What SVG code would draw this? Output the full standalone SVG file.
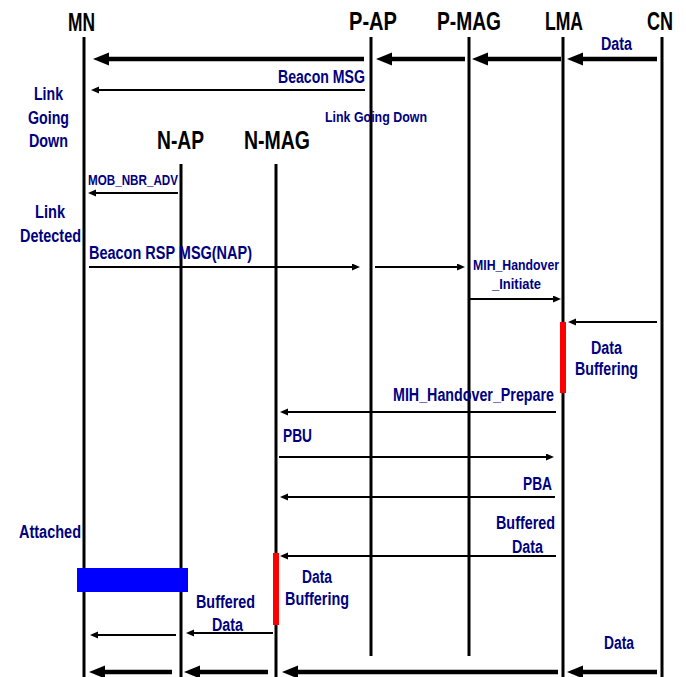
<svg xmlns="http://www.w3.org/2000/svg" width="686" height="677" viewBox="0 0 686 677">
<style>
.hd{font-family:"Liberation Sans",Arial,sans-serif;font-weight:bold;font-size:26px;fill:#000}
.lb{font-family:"Liberation Sans",Arial,sans-serif;font-weight:bold;font-size:18px;fill:#000080}
.sm{font-family:"Liberation Sans",Arial,sans-serif;font-weight:bold;font-size:15px;fill:#000080}
.life{stroke:#000;stroke-width:3;fill:none}
.thick{stroke:#000;stroke-width:4.5;fill:none;marker-end:url(#hb)}
.thin{stroke:#000;stroke-width:2;fill:none;marker-end:url(#hs)}
</style>
<defs>
<marker id="hb" markerUnits="userSpaceOnUse" markerWidth="18" markerHeight="14" refX="2" refY="6.5" orient="auto"><path d="M0,0 L16,6.5 L0,13 z" fill="#000"/></marker>
<marker id="hs" markerUnits="userSpaceOnUse" markerWidth="9" markerHeight="8" refX="1" refY="3.5" orient="auto"><path d="M0,0 L8,3.5 L0,7 z" fill="#000"/></marker>
</defs>
<rect width="686" height="677" fill="#fff"/>
<g id="MN"><text class="hd" x="68" y="31" textLength="27" lengthAdjust="spacingAndGlyphs">MN</text><line class="life" x1="84" y1="37" x2="84" y2="677"/></g>
<g id="P-AP"><text class="hd" x="349" y="30" textLength="48" lengthAdjust="spacingAndGlyphs">P-AP</text><line class="life" x1="371" y1="37" x2="371" y2="656"/></g>
<g id="P-MAG"><text class="hd" x="437" y="30" textLength="64" lengthAdjust="spacingAndGlyphs">P-MAG</text><line class="life" x1="469" y1="37" x2="469" y2="656"/></g>
<g id="LMA"><text class="hd" x="545" y="30" textLength="38" lengthAdjust="spacingAndGlyphs">LMA</text><line class="life" x1="563" y1="37" x2="563" y2="677"/></g>
<g id="CN"><text class="hd" x="647" y="30" textLength="26" lengthAdjust="spacingAndGlyphs">CN</text><line class="life" x1="662" y1="37" x2="662" y2="677"/></g>
<g id="N-AP"><text class="hd" x="157" y="149" textLength="47" lengthAdjust="spacingAndGlyphs">N-AP</text><line class="life" x1="181" y1="164" x2="181" y2="677"/></g>
<g id="N-MAG"><text class="hd" x="244" y="149" textLength="66" lengthAdjust="spacingAndGlyphs">N-MAG</text><line class="life" x1="276" y1="164" x2="276" y2="677"/></g>
<g id="activations">
<rect x="560" y="322" width="6" height="71" fill="#ff0000"/>
<rect x="273" y="553" width="6" height="72" fill="#ff0000"/>
<rect x="77" y="568" width="111" height="24" fill="#0000ff"/>
</g>
<g id="connectors">
<line class="thick" x1="657" y1="59" x2="581" y2="59"/>
<line class="thick" x1="561" y1="59" x2="486" y2="59"/>
<line class="thick" x1="465" y1="59" x2="390" y2="59"/>
<line class="thick" x1="364" y1="59" x2="107" y2="59"/>
<line class="thin" x1="365" y1="90" x2="98" y2="90"/>
<line class="thin" x1="178" y1="193" x2="95" y2="193"/>
<line class="thin" x1="89" y1="267" x2="353" y2="267"/>
<line class="thin" x1="375" y1="267" x2="458" y2="267"/>
<line class="thin" x1="469" y1="299" x2="554" y2="299"/>
<line class="thin" x1="657" y1="322" x2="575" y2="322"/>
<line class="thin" x1="556" y1="412" x2="287" y2="412"/>
<line class="thin" x1="279" y1="457" x2="547" y2="457"/>
<line class="thin" x1="555" y1="497" x2="287" y2="497"/>
<line class="thin" x1="556" y1="556" x2="287" y2="556"/>
<line class="thin" x1="273" y1="633" x2="193" y2="633"/>
<line class="thin" x1="176" y1="635" x2="97" y2="635"/>
<line class="thick" x1="172" y1="672" x2="103" y2="672"/>
<line class="thick" x1="268" y1="672" x2="198" y2="672"/>
<line class="thick" x1="558" y1="672" x2="296" y2="672"/>
<line class="thick" x1="657" y1="672" x2="581" y2="672"/>
</g>
<g id="labels">
<text class="lb" x="601" y="50" textLength="31" lengthAdjust="spacingAndGlyphs">Data</text>
<text class="lb" x="278" y="83" textLength="87" lengthAdjust="spacingAndGlyphs">Beacon MSG</text>
<text class="lb" x="34" y="100" textLength="29" lengthAdjust="spacingAndGlyphs">Link</text>
<text class="lb" x="28" y="124" textLength="41" lengthAdjust="spacingAndGlyphs">Going</text>
<text class="lb" x="29" y="147" textLength="39" lengthAdjust="spacingAndGlyphs">Down</text>
<text class="sm" x="325" y="122" textLength="102" lengthAdjust="spacingAndGlyphs">Link Going Down</text>
<text class="sm" x="88" y="185" textLength="90" lengthAdjust="spacingAndGlyphs">MOB_NBR_ADV</text>
<text class="lb" x="35" y="218" textLength="30" lengthAdjust="spacingAndGlyphs">Link</text>
<text class="lb" x="20" y="242" textLength="61" lengthAdjust="spacingAndGlyphs">Detected</text>
<text class="lb" x="89" y="259" textLength="163" lengthAdjust="spacingAndGlyphs">Beacon RSP MSG(NAP)</text>
<text class="sm" x="473" y="270" textLength="86" lengthAdjust="spacingAndGlyphs">MIH_Handover</text>
<text class="sm" x="492" y="289" textLength="49" lengthAdjust="spacingAndGlyphs">_Initiate</text>
<text class="lb" x="591" y="354" textLength="31" lengthAdjust="spacingAndGlyphs">Data</text>
<text class="lb" x="575" y="375" textLength="63" lengthAdjust="spacingAndGlyphs">Buffering</text>
<text class="lb" x="393" y="401" textLength="161" lengthAdjust="spacingAndGlyphs">MIH_Handover_Prepare</text>
<text class="lb" x="283" y="442" textLength="29" lengthAdjust="spacingAndGlyphs">PBU</text>
<text class="lb" x="523" y="490" textLength="29" lengthAdjust="spacingAndGlyphs">PBA</text>
<text class="lb" x="496" y="529" textLength="59" lengthAdjust="spacingAndGlyphs">Buffered</text>
<text class="lb" x="512" y="553" textLength="31" lengthAdjust="spacingAndGlyphs">Data</text>
<text class="lb" x="19" y="538" textLength="62" lengthAdjust="spacingAndGlyphs">Attached</text>
<text class="lb" x="302" y="583" textLength="30" lengthAdjust="spacingAndGlyphs">Data</text>
<text class="lb" x="285" y="605" textLength="64" lengthAdjust="spacingAndGlyphs">Buffering</text>
<text class="lb" x="196" y="608" textLength="59" lengthAdjust="spacingAndGlyphs">Buffered</text>
<text class="lb" x="212" y="631" textLength="31" lengthAdjust="spacingAndGlyphs">Data</text>
<text class="lb" x="604" y="649" textLength="30" lengthAdjust="spacingAndGlyphs">Data</text>
</g>
</svg>
